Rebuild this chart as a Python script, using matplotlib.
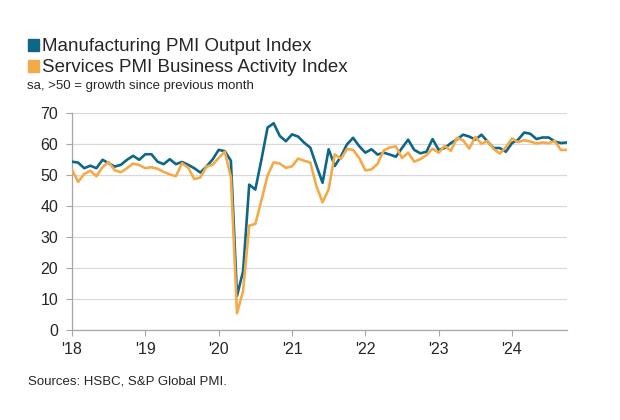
import matplotlib
matplotlib.use("Agg")
import matplotlib.pyplot as plt
from matplotlib.patches import Rectangle

# monthly data, Jan 2018 .. Oct 2024
manufacturing = [
    54.3, 54.0, 52.2, 53.0, 52.2, 54.9, 53.8, 52.7, 53.3, 54.9, 56.2, 54.9,  # 2018
    56.7, 56.7, 54.3, 53.5, 55.1, 53.5, 54.2, 53.3, 52.2, 50.8, 52.7, 55.0,  # 2019
    58.1, 57.7, 54.6, 11.0, 19.0, 46.9, 45.3, 55.0, 65.3, 66.7, 62.6, 60.9,  # 2020
    63.1, 62.4, 60.4, 58.8, 53.0, 47.5, 58.3, 52.9, 56.0, 59.9, 62.0, 59.3,  # 2021
    57.2, 58.3, 56.6, 57.2, 56.6, 55.9, 58.7, 61.4, 58.1, 57.0, 57.5, 61.6,  # 2022
    58.1, 58.7, 60.3, 61.5, 63.0, 62.4, 61.4, 63.0, 60.8, 58.7, 58.7, 57.5,  # 2023
    60.3, 61.4, 63.7, 63.3, 61.6, 62.1, 62.1, 60.8, 60.3, 60.5,              # 2024
]
services = [
    51.7, 47.8, 50.3, 51.4, 49.6, 52.6, 54.2, 51.5, 50.9, 52.2, 53.7, 53.2,
    52.2, 52.5, 52.0, 51.0, 50.2, 49.6, 53.8, 52.4, 48.7, 49.2, 52.7, 53.3,
    55.5, 57.5, 49.3, 5.4, 12.6, 33.7, 34.2, 41.8, 49.8, 54.1, 53.7, 52.3,
    52.8, 55.3, 54.6, 54.0, 46.4, 41.2, 45.4, 56.7, 55.2, 58.4, 58.1, 55.5,
    51.5, 51.8, 53.6, 57.9, 58.9, 59.2, 55.5, 57.2, 54.3, 55.1, 56.4, 58.5,
    57.2, 59.4, 57.8, 62.0, 61.2, 58.5, 62.3, 60.1, 61.0, 58.4, 56.9, 59.0,
    61.8, 60.6, 61.2, 60.8, 60.2, 60.5, 60.3, 60.9, 58.1, 58.1,
]
year_labels = ["'18", "'19", "'20", "'21", "'22", "'23", "'24"]
y_ticks = [0, 10, 20, 30, 40, 50, 60, 70]

blue = "#0e6787"
orange = "#f3aa48"
grid_c = "#d9d9d9"
text_c = "#262626"

plt.rcParams['font.family'] = ['Liberation Sans', 'DejaVu Sans']

fig = plt.figure(figsize=(6.2, 4.2), dpi=100)
ax = fig.add_axes([72/620, 90/420, 495/620, 217/420])

months = list(range(len(manufacturing)))
ax.plot(months, manufacturing, color=blue, lw=1.9, solid_joinstyle='round', zorder=3)
ax.plot(months, services, color=orange, lw=1.9, solid_joinstyle='round', zorder=4)

ax.set_xlim(0, 81)
ax.set_ylim(0, 70)
ax.set_yticks(y_ticks)
ax.set_yticklabels([str(v) for v in y_ticks], fontsize=11.5, color=text_c)
ax.set_xticks([12 * i for i in range(len(year_labels))])
ax.set_xticklabels(year_labels, fontsize=11.5, color=text_c)
ax.grid(axis='y', color=grid_c, lw=0.9, zorder=0)
for s in ['top', 'right']:
    ax.spines[s].set_visible(False)
for s in ['left', 'bottom']:
    ax.spines[s].set_color('#a6a6a6')
    ax.spines[s].set_linewidth(0.9)
ax.tick_params(axis='y', length=4, color='#a6a6a6', pad=6)
ax.tick_params(axis='x', length=4, color='#a6a6a6', pad=5)

# legend block at top-left
fig.patches.append(Rectangle((28/620, 1 - 51/420), 11/620, 12/420, color=blue,
                             transform=fig.transFigure, figure=fig))
fig.patches.append(Rectangle((28/620, 1 - 72/420), 11/620, 12/420, color=orange,
                             transform=fig.transFigure, figure=fig))
fig.text(42/620, 1 - 51/420, "Manufacturing PMI Output Index", fontsize=13.5,
         color=text_c, va='baseline')
fig.text(42/620, 1 - 72/420, "Services PMI Business Activity Index", fontsize=13.5,
         color=text_c, va='baseline')
fig.text(27/620, 1 - 89/420, "sa, >50 = growth since previous month", fontsize=9.5,
         color=text_c, va='baseline')
fig.text(28/620, 1 - 384/420, "Sources: HSBC, S&P Global PMI.", fontsize=9.5,
         color=text_c, va='baseline')

fig.savefig("out.png", dpi=100)
